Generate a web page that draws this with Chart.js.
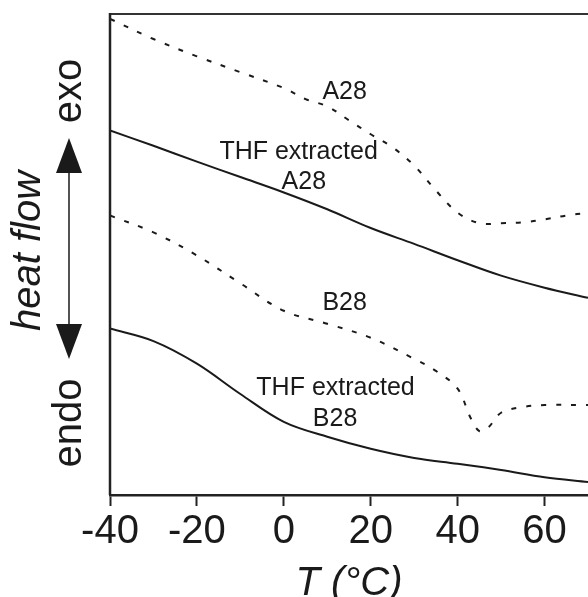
<!DOCTYPE html>
<html>
<head>
<meta charset="utf-8">
<script src="https://cdn.jsdelivr.net/npm/chart.js@4/dist/chart.umd.min.js"></script>
<style>
    body { margin: 0; background: #fff; overflow: hidden; }
    #wrap { width: 588px; height: 612px; }
</style>
</head>
<body>
<div id="wrap"><canvas id="myChart" width="588" height="612"></canvas></div>
<script>
    // temperaturas (°C) y flujo de calor (unidades arbitrarias, 0-100)
    var tA28 = [-40, -30, -20, -10, 0, 5, 10, 15, 20, 25, 30, 35, 40, 45, 50, 55, 60, 65, 70];
    var hA28 = [99.0, 94.8, 91.2, 87.9, 84.6, 82.3, 80.8, 77.9, 75.0, 72.3, 68.5, 63.3, 58.7, 56.5, 56.5, 56.7, 57.3, 58.1, 58.7];

    var tA28ext = [-40, -30, -20, -10, 0, 10, 20, 30, 40, 50, 60, 70];
    var hA28ext = [75.8, 72.6, 69.3, 66.1, 62.9, 59.4, 55.5, 52.2, 48.8, 45.6, 43.1, 41.0];

    var tB28 = [-40, -30, -20, -10, 0, 10, 20, 30, 35, 40, 43, 45, 47, 50, 55, 60, 70];
    var hB28 = [58.1, 54.6, 49.8, 44.0, 38.3, 35.6, 32.7, 28.3, 25.8, 22.1, 16.0, 13.3, 14.0, 17.1, 18.3, 18.7, 18.7];

    var tB28ext = [-40, -30, -20, -10, 0, 10, 20, 30, 40, 50, 60, 70];
    var hB28ext = [34.6, 32.0, 27.3, 21.0, 15.2, 12.1, 9.6, 7.7, 6.5, 5.2, 3.7, 2.7];

    var xTicks = [-40, -20, 0, 20, 40, 60];

    // etiquetas dentro del grafico
    var etiquetas = ['A28', 'THF extracted', 'A28', 'B28', 'THF extracted', 'B28'];
    var etiquetasT = [14.0, 3.4, 4.6, 14.0, 11.9, 11.8];
    var etiquetasH = [83.7, 71.2, 65.0, 39.8, 22.3, 15.8];

    function puntos(ts, hs) {
        return ts.map(function(t, i) { return { x: t, y: hs[i] }; });
    }

    var tinta = '#1a1a1a';
    var fuente = "'Liberation Sans', Arial, Helvetica, sans-serif";

    var marco = {
        id: 'marco',
        afterDraw: function(chart) {
            var ctx = chart.ctx;
            var area = chart.chartArea;
            var x = chart.scales.x, y = chart.scales.y;

            ctx.save();
            // borde superior e izquierdo
            ctx.strokeStyle = '#333';
            ctx.lineWidth = 2;
            ctx.beginPath();
            ctx.moveTo(area.left, area.top);
            ctx.lineTo(area.right, area.top);
            ctx.stroke();
            ctx.strokeStyle = '#222';
            ctx.lineWidth = 2.5;
            ctx.beginPath();
            ctx.moveTo(area.left, area.top - 1);
            ctx.lineTo(area.left, area.bottom);
            ctx.stroke();

            // etiquetas de las curvas
            ctx.fillStyle = tinta;
            ctx.font = '25px ' + fuente;
            ctx.textAlign = 'center';
            ctx.textBaseline = 'middle';
            etiquetas.forEach(function(txt, i) {
                ctx.fillText(txt, x.getPixelForValue(etiquetasT[i]), y.getPixelForValue(etiquetasH[i]));
            });

            // eje vertical: exo / heat flow / endo
            ctx.font = '40px ' + fuente;
            ctx.save();
            ctx.translate(70, 91);
            ctx.rotate(-Math.PI / 2);
            ctx.fillText('exo', 0, 0);
            ctx.restore();

            ctx.save();
            ctx.translate(70, 423);
            ctx.rotate(-Math.PI / 2);
            ctx.fillText('endo', 0, 0);
            ctx.restore();

            ctx.font = 'italic 40px ' + fuente;
            ctx.save();
            ctx.translate(29, 251);
            ctx.rotate(-Math.PI / 2);
            ctx.fillText('heat flow', 0, 0);
            ctx.restore();

            // flecha doble
            ctx.strokeStyle = tinta;
            ctx.lineWidth = 1.5;
            ctx.beginPath();
            ctx.moveTo(69, 170);
            ctx.lineTo(69, 327);
            ctx.stroke();
            ctx.beginPath();
            ctx.moveTo(69, 138);
            ctx.lineTo(82, 173);
            ctx.lineTo(56, 173);
            ctx.closePath();
            ctx.fill();
            ctx.beginPath();
            ctx.moveTo(69, 359);
            ctx.lineTo(82, 324);
            ctx.lineTo(56, 324);
            ctx.closePath();
            ctx.fill();
            ctx.restore();
        }
    };

    var ctx = document.getElementById('myChart').getContext('2d');
    var myChart = new Chart(ctx, {
        type: 'line',
        data: {
            datasets: [
                {
                    label: 'A28',
                    data: puntos(tA28, hA28),
                    borderColor: tinta,
                    borderWidth: 2,
                    borderDash: [5, 10],
                    fill: false
                },
                {
                    label: 'THF extracted A28',
                    data: puntos(tA28ext, hA28ext),
                    borderColor: tinta,
                    borderWidth: 2,
                    fill: false
                },
                {
                    label: 'B28',
                    data: puntos(tB28, hB28),
                    borderColor: tinta,
                    borderWidth: 2,
                    borderDash: [5, 10],
                    fill: false
                },
                {
                    label: 'THF extracted B28',
                    data: puntos(tB28ext, hB28ext),
                    borderColor: tinta,
                    borderWidth: 2,
                    fill: false
                }
            ]
        },
        options: {
            responsive: false,
            animation: false,
            layout: { padding: { left: 110, top: 14, right: 0, bottom: 0 } },
            elements: {
                point: { radius: 0 },
                line: { tension: 0.35 }
            },
            plugins: {
                legend: { display: false },
                tooltip: { enabled: false }
            },
            scales: {
                x: {
                    type: 'linear',
                    min: -40,
                    max: 70,
                    afterBuildTicks: function(scale) {
                        scale.ticks = xTicks.map(function(v) { return { value: v }; });
                    },
                    ticks: {
                        color: tinta,
                        font: { size: 40, family: fuente },
                        padding: 2,
                        maxRotation: 0
                    },
                    grid: {
                        drawOnChartArea: false,
                        tickLength: 11,
                        tickWidth: 2,
                        color: '#222'
                    },
                    border: { color: '#222', width: 2.5 },
                    title: {
                        display: true,
                        text: 'T (°C)',
                        color: tinta,
                        font: { size: 40, style: 'italic', family: fuente },
                        padding: { top: 2, bottom: 4 }
                    }
                },
                y: {
                    display: false,
                    min: 0,
                    max: 100
                }
            }
        },
        plugins: [marco]
    });
</script>
</body>
</html>
